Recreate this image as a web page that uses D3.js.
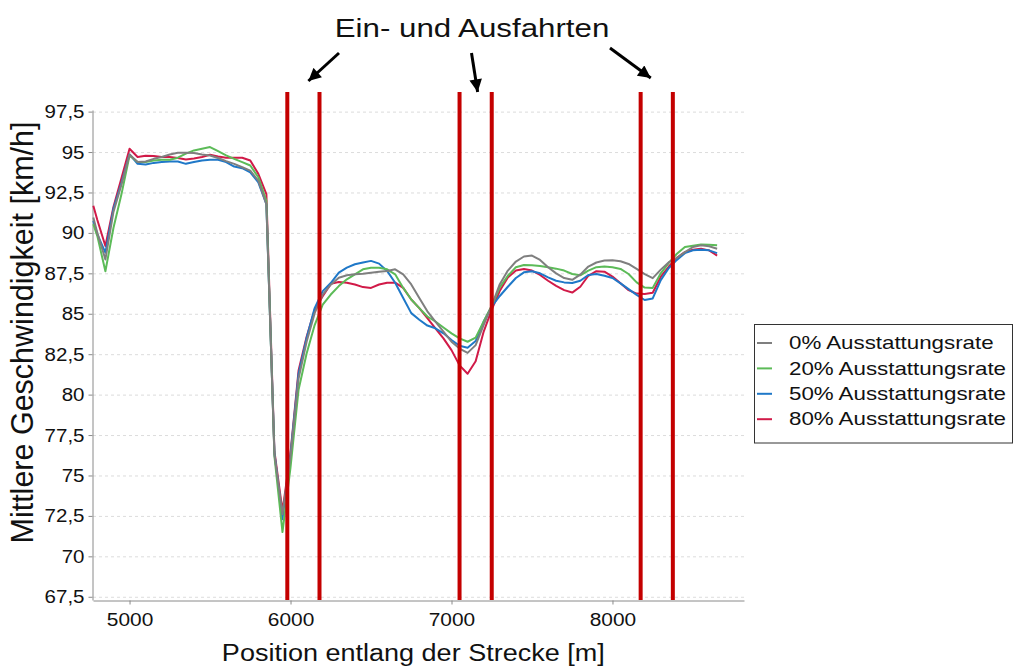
<!DOCTYPE html>
<html><head><meta charset="utf-8">
<script src="https://cdn.jsdelivr.net/npm/d3@7/dist/d3.min.js"></script>
<style>
html,body{margin:0;padding:0;background:#fff;}
svg text{font-family:"Liberation Sans", Arial, Helvetica, sans-serif;fill:#111;}
</style></head><body>
<svg id="chart" width="1015" height="668"></svg>
<script>
// ---------------- data ----------------
const positions = [4775,4800,4850,4900,4950,5000,5050,5100,5150,5200,5250,5300,5350,5400,5450,5500,5550,5600,5650,5700,5750,5800,5850,5900,5950,6000,6050,6100,6150,6200,6250,6300,6350,6400,6450,6500,6550,6600,6650,6700,6750,6800,6850,6900,6950,7000,7050,7100,7150,7200,7250,7300,7350,7400,7450,7500,7550,7600,7650,7700,7750,7800,7850,7900,7950,8000,8050,8100,8150,8200,8250,8300,8350,8400,8450,8500,8550,8600,8650];

const rate0 = [90.95,90.0,88.36,91.3,93.0,94.85,94.38,94.42,94.58,94.69,94.85,94.96,94.96,94.94,94.85,94.79,94.63,94.44,94.27,94.06,93.85,93.23,91.77,
  76.3,72.6,76.2,81.0,83.27,85.04,86.19,86.8,87.23,87.38,87.44,87.48,87.54,87.6,87.65,87.75,87.44,86.81,85.98,85.15,84.52,83.9,83.27,82.85,82.58,83.06,84.31,85.5,86.83,87.67,88.23,88.54,88.6,88.33,87.88,87.5,87.21,87.1,87.42,87.92,88.17,88.29,88.31,88.25,88.08,87.77,87.45,87.2,87.73,88.19,88.46,88.81,89.13,89.23,89.17,89.02];

const rate20 = [90.54,89.8,87.63,90.3,92.4,94.79,94.38,94.38,94.48,94.52,94.52,94.65,94.9,95.1,95.2,95.31,95.06,94.79,94.58,94.38,94.17,93.44,91.98,
  76.2,71.5,75.5,80.3,82.54,84.3,85.56,86.19,86.71,87.13,87.44,87.75,87.85,87.85,87.75,87.44,86.6,85.88,85.35,84.83,84.52,84.15,83.79,83.48,83.27,83.52,84.52,85.5,86.63,87.35,87.88,88.02,88.0,87.96,87.88,87.79,87.67,87.46,87.38,87.67,87.88,87.92,87.88,87.77,87.46,86.94,86.62,86.6,87.5,88.15,88.71,89.13,89.21,89.29,89.27,89.23];

const rate50 = [90.75,89.9,88.78,91.5,93.1,94.85,94.27,94.23,94.33,94.38,94.42,94.42,94.27,94.38,94.48,94.52,94.52,94.38,94.1,94.0,93.75,93.13,91.77,
  76.4,72.3,76.3,81.3,83.5,85.35,86.4,86.9,87.54,87.85,88.06,88.17,88.27,88.1,87.65,86.92,85.98,85.04,84.63,84.27,84.1,83.79,83.38,83.02,82.9,83.31,84.52,85.45,86.1,86.67,87.21,87.56,87.63,87.5,87.25,87.04,86.94,86.9,87.04,87.4,87.46,87.35,87.21,86.88,86.52,86.17,85.85,85.95,87.08,87.83,88.33,88.75,88.92,88.96,88.92,88.75];

const rate80 = [91.68,90.8,89.19,91.6,93.4,95.2,94.69,94.77,94.75,94.7,94.69,94.63,94.54,94.6,94.69,94.83,94.73,94.65,94.65,94.65,94.48,93.65,92.4,
  76.5,72.8,76.4,81.5,83.58,85.25,86.08,86.85,86.96,86.92,86.81,86.65,86.6,86.81,86.92,86.92,86.6,85.88,85.35,84.73,84.1,83.48,82.75,81.81,81.29,82.06,83.9,85.25,86.42,87.25,87.67,87.77,87.67,87.4,87.04,86.73,86.46,86.31,86.67,87.35,87.63,87.6,87.3,86.88,86.46,86.25,86.22,86.3,87.29,87.92,88.46,88.81,88.96,89.02,88.92,88.6];

const seriesNames = ["0% Ausstattungsrate","20% Ausstattungsrate","50% Ausstattungsrate","80% Ausstattungsrate"];
const seriesColors = ["#7f7f7f","#5cbb58","#1f78c8","#d11a48"];
const rampPositions = [5980, 6180, 7050, 7250, 8175, 8375];
const xTicks = [5000, 6000, 7000, 8000];
const yTicks = [67.5,70,72.5,75,77.5,80,82.5,85,87.5,90,92.5,95,97.5];
const yTickLabels = ["67,5","70","72,5","75","77,5","80","82,5","85","87,5","90","92,5","95","97,5"];
const titleText = "Ein- und Ausfahrten";
const xTitle = "Position entlang der Strecke [m]";
const yTitle = "Mittlere Geschwindigkeit [km/h]";

// ---------------- layout ----------------
const svg = d3.select("#chart");
const plot = {left: 93, right: 744, top: 110, bottom: 600};
const x = d3.scaleLinear().domain([4773, 8817]).range([plot.left, plot.right]);
const y = d3.scaleLinear().domain([67.3, 97.6]).range([plot.bottom, plot.top]);

function stretch(sel, sx) {
  sel.each(function() {
    const t = d3.select(this);
    const X = +t.attr("x") || 0;
    t.attr("transform", `translate(${X},0) scale(${sx},1) translate(${-X},0)`);
  });
}

// gridlines
svg.append("g").selectAll("line").data(yTicks).join("line")
  .attr("x1", plot.left).attr("x2", plot.right)
  .attr("y1", d => y(d) + 0.5).attr("y2", d => y(d) + 0.5)
  .attr("stroke", "#dcdcdc").attr("stroke-width", 1).attr("stroke-dasharray", "3,3");

// axes
const yAxis = svg.append("g").attr("transform", `translate(${plot.left - 0.5},0)`)
  .call(d3.axisLeft(y).tickValues(yTicks).tickFormat((d, i) => yTickLabels[i]).tickSize(4).tickSizeOuter(0).tickPadding(4));
yAxis.select(".domain").attr("stroke", "#8a8a8a");
yAxis.selectAll(".tick line").attr("stroke", "#8a8a8a");
yAxis.selectAll("text").attr("font-size", 19).attr("fill", "#111")
  .style("font-family", '"Liberation Sans", Arial, sans-serif');
stretch(yAxis.selectAll("text"), 1.08);

const xAxis = svg.append("g").attr("transform", `translate(0,${plot.bottom + 0.5})`)
  .call(d3.axisBottom(x).tickValues(xTicks).tickFormat(d3.format("d")).tickSize(4).tickSizeOuter(0).tickPadding(8));
xAxis.select(".domain").attr("stroke", "#8a8a8a");
xAxis.selectAll(".tick line").attr("stroke", "#8a8a8a");
xAxis.selectAll("text").attr("font-size", 19).attr("fill", "#111")
  .style("font-family", '"Liberation Sans", Arial, sans-serif');
stretch(xAxis.selectAll("text"), 1.1);

// series lines
const allSeries = [rate0, rate20, rate50, rate80];
const line = d3.line().x((d, i) => x(positions[i])).y(d => y(d));
const drawOrder = [3, 2, 1, 0];
svg.append("g").selectAll("path").data(drawOrder).join("path")
  .attr("d", k => line(allSeries[k]))
  .attr("fill", "none")
  .attr("stroke", k => seriesColors[k])
  .attr("stroke-width", 2)
  .attr("stroke-linejoin", "round");

// ramp lines
svg.append("g").selectAll("line").data(rampPositions).join("line")
  .attr("x1", d => x(d)).attr("x2", d => x(d))
  .attr("y1", plot.top - 18).attr("y2", plot.bottom)
  .attr("stroke", "#c40000").attr("stroke-width", 4);

// title & arrows
svg.append("text").text(titleText)
  .attr("x", 472).attr("y", 37.3).attr("text-anchor", "middle")
  .attr("font-size", 26.5).call(s => stretch(s, 1.18));

const defs = svg.append("defs");
defs.append("marker").attr("id", "ah")
  .attr("viewBox", "0 0 10 10").attr("refX", 10).attr("refY", 5)
  .attr("markerWidth", 4.6).attr("markerHeight", 4.2).attr("orient", "auto")
  .attr("markerUnits", "strokeWidth")
  .append("path").attr("d", "M0,0 L10,5 L0,10 z").attr("fill", "#000");

// arrows point to the gaps between each pair of ramp lines
const arrowSpecs = [
  {pair: 0, from: [339, 53], tipDx: 5, tipY: 81},
  {pair: 1, from: [471.5, 53], tipDx: 2, tipY: 92},
  {pair: 2, from: [610, 48], tipDx: -6, tipY: 78}
];
svg.append("g").selectAll("line").data(arrowSpecs).join("line")
  .attr("x1", d => d.from[0]).attr("y1", d => d.from[1])
  .attr("x2", d => (x(rampPositions[d.pair * 2]) + x(rampPositions[d.pair * 2 + 1])) / 2 + d.tipDx)
  .attr("y2", d => d.tipY)
  .attr("stroke", "#000").attr("stroke-width", 3)
  .attr("marker-end", "url(#ah)");

// axis titles
svg.append("text").text(xTitle)
  .attr("x", 413.3).attr("y", 660.7).attr("text-anchor", "middle")
  .attr("font-size", 23.3).call(s => stretch(s, 1.16));

svg.append("text").text(yTitle)
  .attr("transform", "translate(33.3,332.5) rotate(-90)")
  .attr("text-anchor", "middle").attr("font-size", 30.5);

// legend
const legend = svg.append("g");
legend.append("rect").attr("x", 754.5).attr("y", 324.5).attr("width", 258).attr("height", 118.5)
  .attr("fill", "#fff").attr("stroke", "#333").attr("stroke-width", 1);
const rows = legend.selectAll("g.row").data(seriesNames).join("g").attr("class", "row");
rows.append("line")
  .attr("x1", 757).attr("x2", 772)
  .attr("y1", (d, i) => 343 + i * 25.4).attr("y2", (d, i) => 343 + i * 25.4)
  .attr("stroke", (d, i) => seriesColors[i]).attr("stroke-width", 2);
rows.append("text").text(d => d)
  .attr("x", 789).attr("y", (d, i) => 349.3 + i * 25.3)
  .attr("font-size", 18.6)
  .each(function() { stretch(d3.select(this), 1.2); });
</script>
</body></html>
